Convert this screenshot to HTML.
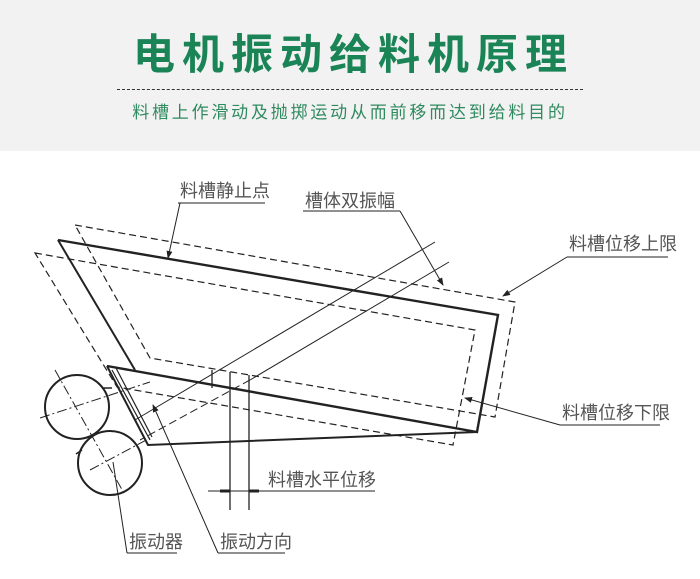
<!DOCTYPE html>
<html><head><meta charset="utf-8"><style>
body{margin:0;width:700px;height:579px;background:#fff;overflow:hidden;font-family:"Liberation Sans","Noto Sans CJK SC",sans-serif;}
.hd{position:absolute;left:0;top:0;width:700px;height:151px;background:#f2f2f2;}
.t{position:absolute;left:0;width:700px;text-align:center;top:26px;font-size:42px;font-weight:bold;color:#1b8457;letter-spacing:7px;text-indent:7px;line-height:52px;font-family:"Noto Sans CJK SC",sans-serif;}
.ln{position:absolute;left:117px;top:89px;width:466px;border-top:1px dashed #333;}
.s{position:absolute;left:0;width:700px;text-align:center;top:99px;font-size:17px;color:#2f8a5f;letter-spacing:2.8px;line-height:24px;font-family:"Noto Sans CJK SC",sans-serif;}
svg{position:absolute;left:0;top:0}
text{font-family:"Noto Sans CJK SC",sans-serif;font-size:18px;fill:#555;}
</style></head><body>
<div class="hd"></div>
<div class="t">电机振动给料机原理</div>
<div class="ln"></div>
<div class="s">料槽上作滑动及抛掷运动从而前移而达到给料目的</div>
<svg width="700" height="579" viewBox="0 0 700 579">
<defs><marker id="a" markerWidth="8" markerHeight="6" refX="7" refY="3" orient="auto"><path d="M0,0L8,3L0,6z" fill="#222"/></marker></defs>
<g fill="none" stroke="#222">
<!-- dashed troughs -->
<g stroke-dasharray="7,4" stroke-width="1.2">
<path d="M75,225 L515,302 L495,417 L150,358 Z"/>
<path d="M35,253 L475,330 L453,445 L117,387 Z"/>
</g>
<!-- solid trough -->
<path d="M58,240 L498,315 L477,432 L107,366" stroke-width="2.4"/>
<path d="M58,240 L135,370" stroke-width="2"/>
<path d="M107,366 L148,445 L477,432" stroke-width="2"/>
<path d="M112,370 L150,440 M116,368 L152,437" stroke-width="1.2"/>
<!-- vibrators -->
<circle cx="77" cy="407" r="32" stroke-width="2"/>
<circle cx="110" cy="463" r="32" stroke-width="2"/>
<path d="M102,388 L112,388 M82,450 L76,454" stroke-width="1.5"/>
<path d="M55,370 L125,495 M40,418 L150,382 M90,470 L150,438" stroke-width="1" stroke-dasharray="10,3,2,3"/>
<!-- vibration lines -->
<path d="M435,242 L135,420" stroke-width="1"/>
<path d="M449,262 L250,380" stroke-width="1"/>
<path d="M250,380 L140,440" stroke-width="1" stroke-dasharray="8,4"/>
<!-- verticals -->
<path d="M212,370 L212,388 M230,372 L230,510 M249,375 L249,510" stroke-width="1.3"/>
<path d="M208,491 L375,491" stroke-width="1"/>
<path d="M220,491 L230,491 M249,491 L259,491" stroke-width="3"/>
<!-- leaders -->
<path d="M178,203 L265,203" stroke-width="1"/>
<path d="M180,203 L168,258" stroke-width="1" marker-end="url(#a)"/>
<path d="M303,211 L400,211" stroke-width="1"/>
<path d="M400,211 L443,285" stroke-width="1" marker-end="url(#a)"/>
<path d="M567,257 L668,257" stroke-width="1"/>
<path d="M567,257 L503,296" stroke-width="1" marker-end="url(#a)"/>
<path d="M560,425 L660,425" stroke-width="1"/>
<path d="M560,425 L465,398" stroke-width="1" marker-end="url(#a)"/>
<path d="M127,553 L177,553" stroke-width="1"/>
<path d="M127,553 L113,462" stroke-width="1"/>
<path d="M218,553 L285,553" stroke-width="1"/>
<path d="M218,553 L153,405" stroke-width="1" marker-end="url(#a)"/>
</g>
<text x="180" y="197">料槽静止点</text>
<text x="305" y="207">槽体双振幅</text>
<text x="569" y="250">料槽位移上限</text>
<text x="562" y="419">料槽位移下限</text>
<text x="268" y="486">料槽水平位移</text>
<text x="129" y="548">振动器</text>
<text x="220" y="548">振动方向</text>
</svg>
</body></html>
